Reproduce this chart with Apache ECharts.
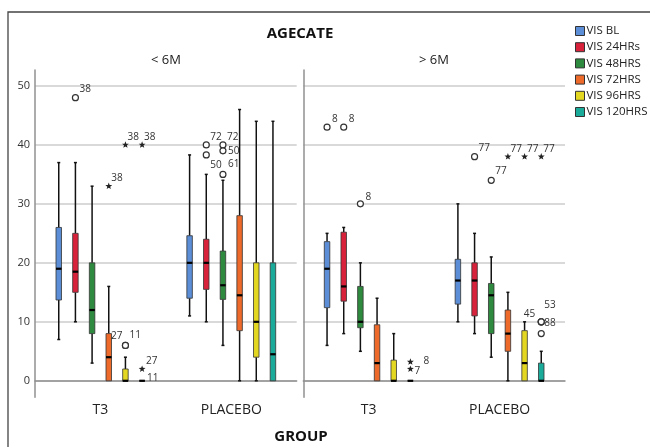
<!DOCTYPE html>
<html><head><meta charset="utf-8">
<script src="https://cdn.jsdelivr.net/npm/echarts@6/dist/echarts.min.js"></script>
<style>html,body{margin:0;padding:0;background:#fff}#c{width:650px;height:447px}</style>
</head><body><div id="c"></div>
<script>
// ---------- DATA ----------
const panelNames = ['< 6M', '> 6M'];
const groupNames = ['T3', 'PLACEBO'];
const seriesNames = ['VIS BL', 'VIS 24HRs', 'VIS 48HRS', 'VIS 72HRS', 'VIS 96HRS', 'VIS 120HRS'];
const yTicks = [0, 10, 20, 30, 40, 50];

// box stats per group (T3, PLACEBO): [low whisker, Q1, median, Q3, high whisker]
const under6BL   = [[7, 13.7, 19, 26, 37],   [11, 14, 20, 24.6, 38.3]];
const under6H24  = [[10, 15, 18.5, 25, 37],  [10, 15.5, 20, 24, 35]];
const under6H48  = [[3, 8, 12, 20, 33],      [6, 13.8, 16.2, 22, 34]];
const under6H72  = [[0, 0, 4, 8, 16],        [0, 8.5, 14.5, 28, 46]];
const under6H96  = [[0, 0, 0, 2, 4],         [0, 4, 10, 20, 44]];
const under6H120 = [[0, 0, 0, 0, 0],         [0, 0, 4.5, 20, 44]];

const over6BL    = [[6, 12.4, 19, 23.6, 25], [10, 13, 17, 20.6, 30]];
const over6H24   = [[8, 13.5, 16, 25.2, 26], [8, 11, 17, 20, 25]];
const over6H48   = [[5, 9, 10, 16, 20],      [4, 8, 14.5, 16.5, 21]];
const over6H72   = [[0, 0, 3, 9.5, 14],      [0, 5, 8, 12, 15]];
const over6H96   = [[0, 0, 0, 3.5, 8],       [0, 0, 3, 8.5, 10]];
const over6H120  = [[0, 0, 0, 0, 0],         [0, 0, 0, 3, 5]];

// outliers: [series index, group index, value, case label, kind: o=outlier, *=extreme, -=on box]
const under6Outliers = [
  [1, 0, 48, '38', 'o'],
  [3, 0, 33, '38', '*'],
  [4, 0, 40, '38', '*'],
  [5, 0, 40, '38', '*'],
  [4, 0, 6, '27', 'o'],
  [4, 0, 6, '11', 'o'],
  [5, 0, 2, '27', '*'],
  [5, 0, 0, '11', '-'],
  [1, 1, 40, '72', 'o'],
  [1, 1, 38.3, '50', 'o'],
  [2, 1, 40, '72', 'o'],
  [2, 1, 39, '50', 'o'],
  [2, 1, 35, '61', 'o']
];
const over6Outliers = [
  [0, 0, 43, '8', 'o'],
  [1, 0, 43, '8', 'o'],
  [2, 0, 30, '8', 'o'],
  [5, 0, 3.2, '8', '*'],
  [5, 0, 2, '7', '*'],
  [1, 1, 38, '77', 'o'],
  [2, 1, 34, '77', 'o'],
  [3, 1, 38, '77', '*'],
  [4, 1, 38, '77', '*'],
  [5, 1, 38, '77', '*'],
  [5, 1, 10, '88', 'o'],
  [5, 1, 10, '53', 'o'],
  [5, 1, 10, '45', 'o'],
  [5, 1, 8, '', 'o']
];

// ---------- STYLE ----------
const colors = ['#5b8ed6', '#d8213b', '#2e8a3f', '#ee6a2a', '#e4d722', '#1aab9b'];
const FONT = 'Open Sans';
const BOX_STEP = 0.1274;   // fraction of band between neighbouring boxes
const BOX_W = 5.5;
const CAP = 3;
// label placement per outlier [dx, dy, align]
const under6LabelPos = [[4,-9],[2.5,-8],[2,-8],[2,-8],[-3,-9,'right'],[4,-10],[4,-8],[5,-3],[4,-8],[4,10],[4,-8],[5,0],[5,-10]];
const over6LabelPos = [[5,-8],[5,-8],[5,-7],[13,-1],[4,2],[4,-9],[4,-9],[2.5,-8],[2.5,-8],[2,-8],[3,1.5],[3,-16.5],[-6,-7.7,'right'],[0,0]];

const panelBoxes = [
  [under6BL, under6H24, under6H48, under6H72, under6H96, under6H120],
  [over6BL, over6H24, over6H48, over6H72, over6H96, over6H120]
];
const panelOutliers = [under6Outliers, over6Outliers];
const panelLabelPos = [under6LabelPos, over6LabelPos];

function boxRenderer(si) {
  return function (params, api) {
    const g = api.value(0);
    const pLo = api.coord([g, api.value(1)]);
    const pQ1 = api.coord([g, api.value(2)]);
    const pMd = api.coord([g, api.value(3)]);
    const pQ3 = api.coord([g, api.value(4)]);
    const pHi = api.coord([g, api.value(5)]);
    const band = api.size([1, 0])[0];
    const x = pLo[0] + (si - 2.5) * band * BOX_STEP;
    const hw = BOX_W / 2;
    const ls = { stroke: '#111', lineWidth: 1.5 };
    const ch = [];
    if (pHi[1] < pQ3[1] - 0.5) {
      ch.push({ type: 'line', shape: { x1: x, y1: pQ3[1], x2: x, y2: pHi[1] }, style: ls });
      ch.push({ type: 'line', shape: { x1: x - CAP / 2, y1: pHi[1], x2: x + CAP / 2, y2: pHi[1] }, style: ls });
    }
    if (pLo[1] > pQ1[1] + 0.5) {
      ch.push({ type: 'line', shape: { x1: x, y1: pQ1[1], x2: x, y2: pLo[1] }, style: ls });
      ch.push({ type: 'line', shape: { x1: x - CAP / 2, y1: pLo[1], x2: x + CAP / 2, y2: pLo[1] }, style: ls });
    }
    ch.push({ type: 'rect', shape: { x: x - hw, y: pQ3[1], width: BOX_W, height: pQ1[1] - pQ3[1] },
      style: { fill: api.visual('color'), stroke: '#333', lineWidth: 0.8 } });
    ch.push({ type: 'line', shape: { x1: x - hw, y1: pMd[1], x2: x + hw, y2: pMd[1] },
      style: { stroke: '#000', lineWidth: 2.2 } });
    return { type: 'group', children: ch };
  };
}

function starPoints(cx, cy, r, r0) {
  const pts = [];
  for (let k = 0; k < 10; k++) {
    const rr = k % 2 ? r0 : r;
    const a = -Math.PI / 2 + k * Math.PI / 5;
    pts.push([cx + rr * Math.cos(a), cy + rr * Math.sin(a)]);
  }
  return pts;
}

function outlierRenderer(p) {
  return function (params, api) {
    const row = panelOutliers[p][params.dataIndex];
    const lp = panelLabelPos[p][params.dataIndex] || [4, -8];
    const si = api.value(0), g = api.value(1), v = api.value(2);
    const pt = api.coord([g, v]);
    const band = api.size([1, 0])[0];
    const x = pt[0] + (si - 2.5) * band * BOX_STEP;
    const y = pt[1];
    const ch = [];
    if (row[4] === 'o') {
      ch.push({ type: 'circle', shape: { cx: x, cy: y, r: 3 }, style: { fill: '#fff', stroke: '#333', lineWidth: 1.2 } });
    } else if (row[4] === '*') {
      ch.push({ type: 'polygon', shape: { points: starPoints(x, y, 3.6, 1.5) }, style: { fill: '#222' } });
    }
    if (row[3]) {
      ch.push({ type: 'text', x: x + lp[0], y: y + lp[1],
        style: { text: row[3], fontSize: 10, fontFamily: FONT, fill: '#333',
          align: lp[2] || 'left', verticalAlign: 'middle' } });
    }
    return { type: 'group', children: ch };
  };
}

const grids = [
  { left: 35, top: 70, width: 261.7, height: 327.3 },
  { left: 303.3, top: 70, width: 261.7, height: 327.3 }
];
const xAxes = [0, 1].map(p => ({
  gridIndex: p, type: 'category', data: groupNames,
  axisLine: { lineStyle: { color: '#909090', width: 1.5 } },
  axisTick: { show: false },
  axisLabel: { fontSize: 14, color: '#222', margin: 6, fontFamily: FONT },
  splitLine: { show: false }
}));
const yAxes = [0, 1].map(p => ({
  gridIndex: p, type: 'value', min: -2.8, max: 52.7, minInterval: 10, maxInterval: 10,
  axisLine: { show: true, lineStyle: { color: '#909090', width: 1.5 } },
  axisTick: { show: false },
  axisLabel: { show: p === 0, fontSize: 11, color: '#333', margin: 5, fontFamily: FONT,
    showMinLabel: false, showMaxLabel: false,
    formatter: v => (yTicks.indexOf(v) >= 0 ? String(v) : '') },
  splitLine: { show: true, showMinLine: false, showMaxLine: false, lineStyle: { color: '#cdcdcd', width: 1.5 } }
}));

const series = [];
for (let p = 0; p < 2; p++) {
  for (let s = 0; s < 6; s++) {
    series.push({
      type: 'custom', name: seriesNames[s], xAxisIndex: p, yAxisIndex: p,
      itemStyle: { color: colors[s] },
      data: panelBoxes[p][s].map((st, g) => [g].concat(st)),
      encode: { x: 0, y: [1, 2, 3, 4, 5] },
      renderItem: boxRenderer(s), z: 2
    });
  }
  series.push({
    type: 'custom', name: 'outliers ' + panelNames[p], xAxisIndex: p, yAxisIndex: p,
    data: panelOutliers[p].map(r => [r[0], r[1], r[2]]),
    encode: { x: 1, y: 2 },
    renderItem: outlierRenderer(p), z: 3
  });
}

const chart = echarts.init(document.getElementById('c'));
chart.setOption({
  animation: false,
  backgroundColor: '#fff',
  grid: grids,
  xAxis: xAxes,
  yAxis: yAxes,
  legend: {
    data: seriesNames, orient: 'vertical', left: 575, top: 25, padding: 0,
    itemWidth: 9, itemHeight: 9, itemGap: 4.2, icon: 'rect', selectedMode: false,
    itemStyle: { borderColor: '#333', borderWidth: 1 },
    textStyle: { fontSize: 11.5, color: '#222', fontFamily: FONT, padding: [0, 0, 0, -3] }
  },
  graphic: [
    { type: 'rect', silent: true, z: -1, shape: { x: 8, y: 12, width: 700, height: 500 },
      style: { fill: 'none', stroke: '#444', lineWidth: 1.3 } },
    { type: 'text', x: 300, y: 34, style: { text: 'AGECATE', fontSize: 15, fontWeight: 'bold', fontFamily: FONT, fill: '#111', align: 'center', verticalAlign: 'middle' } },
    { type: 'text', x: 166, y: 60, style: { text: panelNames[0], fontSize: 13, fontFamily: FONT, fill: '#222', align: 'center', verticalAlign: 'middle' } },
    { type: 'text', x: 434, y: 60, style: { text: panelNames[1], fontSize: 13, fontFamily: FONT, fill: '#222', align: 'center', verticalAlign: 'middle' } },
    { type: 'text', x: 301, y: 437, style: { text: 'GROUP', fontSize: 15, fontWeight: 'bold', fontFamily: FONT, fill: '#111', align: 'center', verticalAlign: 'middle' } }
  ],
  series: series
});
</script>
</body></html>
